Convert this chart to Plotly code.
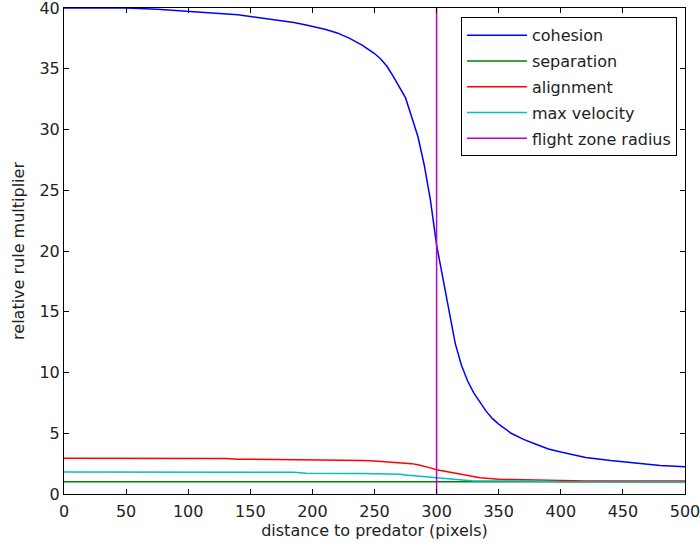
import plotly.graph_objects as go

# distance to predator (pixels)
distance = [0, 25, 50, 75, 100, 125, 130, 140, 150, 175,
            185, 195, 200, 210, 220, 230, 240, 250, 255, 260,
            265, 270, 275, 280, 285, 290, 295, 300, 305, 310,
            315, 320, 325, 330, 335, 340, 345, 350, 360, 370,
            380, 390, 400, 420, 440, 460, 480, 500]

cohesion = [40.0, 40.0, 40.0, 39.9, 39.75, 39.6, 39.55, 39.45, 39.3, 38.95,
            38.8, 38.6, 38.5, 38.25, 37.95, 37.5, 36.95, 36.25, 35.8, 35.2,
            34.4, 33.5, 32.6, 31.0, 29.4, 27.1, 24.2, 20.5, 17.8, 15.0,
            12.4, 10.6, 9.3, 8.3, 7.5, 6.8, 6.2, 5.75, 5.0, 4.5,
            4.1, 3.7, 3.45, 3.0, 2.75, 2.55, 2.35, 2.25]

separation = [1.0] * len(distance)

alignment = [2.95, 2.95, 2.95, 2.94, 2.94, 2.93, 2.92, 2.87, 2.86, 2.86,
             2.86, 2.85, 2.85, 2.85, 2.84, 2.8, 2.76, 2.72, 2.69, 2.66,
             2.63, 2.6, 2.56, 2.5, 2.4, 2.3, 2.15, 2.0, 1.9, 1.8,
             1.68, 1.58, 1.5, 1.4, 1.34, 1.3, 1.25, 1.22, 1.2, 1.18,
             1.13, 1.1, 1.08, 1.07, 1.07, 1.07, 1.07, 1.07]

max_velocity = [1.82, 1.82, 1.82, 1.81, 1.81, 1.8, 1.8, 1.8, 1.8, 1.79,
                1.78, 1.71, 1.7, 1.7, 1.69, 1.69, 1.68, 1.68, 1.68, 1.67,
                1.65, 1.62, 1.57, 1.52, 1.48, 1.43, 1.38, 1.32, 1.27, 1.22,
                1.18, 1.15, 1.11, 1.08, 1.07, 1.07, 1.07, 1.07, 1.06, 1.06,
                1.06, 1.05, 1.0, 0.99, 0.99, 0.99, 0.98, 0.98]

flight_zone_x = [300, 300]
flight_zone_y = [0, 40]

x_ticks = [0, 50, 100, 150, 200, 250, 300, 350, 400, 450, 500]
y_ticks = [0, 5, 10, 15, 20, 25, 30, 35, 40]

FONT = "DejaVu Sans"
TXT = "#222222"
series = [
    ("cohesion", distance, cohesion, "#0000ff"),
    ("separation", distance, separation, "#008000"),
    ("alignment", distance, alignment, "#ff0000"),
    ("max velocity", distance, max_velocity, "#00bfbf"),
    ("flight zone radius", flight_zone_x, flight_zone_y, "#bf00bf"),
]

fig = go.Figure()
for i, (name, xs, ys, col) in enumerate(series):
    fig.add_trace(go.Scatter(x=xs, y=ys, mode="lines", name=name,
                             legendgroup="g%d" % i,
                             line=dict(color=col, width=1.5)))

axis_common = dict(showline=True, mirror="ticks", linecolor="black", linewidth=1,
                   ticks="inside", ticklen=5, tickcolor="black", tickwidth=1,
                   showgrid=False, zeroline=False, layer="above traces",
                   automargin=False, ticklabeloverflow="allow",
                   tickfont=dict(family=FONT, size=16, color=TXT))

fig.update_layout(
    width=700, height=551,
    margin=dict(l=64, r=15, t=8, b=57),
    paper_bgcolor="white", plot_bgcolor="white",
    font=dict(family=FONT, size=16, color=TXT),
    xaxis=dict(range=[0, 500], tickvals=x_ticks, ticklabelstandoff=3,
               title=dict(text="distance to predator (pixels)", standoff=4,
                          font=dict(family=FONT, size=16, color=TXT)),
               **axis_common),
    yaxis=dict(range=[0, 40], tickvals=y_ticks,
               title=dict(text="relative rule multiplier", standoff=10,
                          font=dict(family=FONT, size=16, color=TXT)),
               **axis_common),
    legend=dict(x=0.987, y=0.981, xanchor="right", yanchor="top",
                bgcolor="white", bordercolor="black", borderwidth=1,
                traceorder="grouped", tracegroupgap=2, itemwidth=60,
                font=dict(family=FONT, size=16, color=TXT)),
    showlegend=True,
)

fig.write_html("out.html", config={"displayModeBar": False},
               post_script="document.body.style.margin='0px';")
